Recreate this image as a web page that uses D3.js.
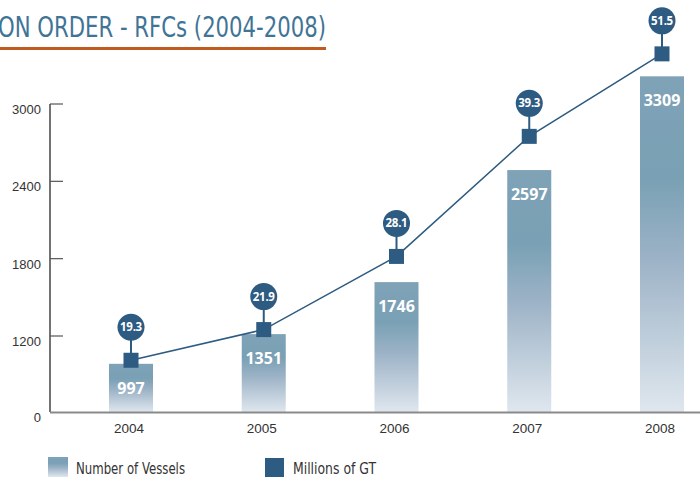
<!DOCTYPE html>
<html>
<head>
<meta charset="utf-8">
<script src="https://cdn.jsdelivr.net/npm/d3@7"></script>
<style>
  body { margin: 0; background: #fff; }
  svg { display: block; }
</style>
</head>
<body>
<div id="container"></div>
<script>
var w = 700,
    h = 478;

// data
var years = ['2004', '2005', '2006', '2007', '2008'];
var vessels = [997, 1351, 1746, 2597, 3309];
var millionsGT = [19.3, 21.9, 28.1, 39.3, 51.5];
var yTicks = [0, 1200, 1800, 2400, 3000];
var legendLabels = ['Number of Vessels', 'Millions of GT'];

var blue = '#2d5b81';
var narrow = '"Liberation Sans Narrow", "DejaVu Sans Condensed", sans-serif';

var svg = d3.select('#container')
    .append('svg')
    .attr('width', w)
    .attr('height', h);

var defs = svg.append('defs');
var grad = defs.append('linearGradient')
    .attr('id', 'barGrad')
    .attr('x1', 0).attr('y1', 0)
    .attr('x2', 0).attr('y2', 1);
grad.append('stop').attr('offset', '0%').attr('stop-color', '#7fa2b7');
grad.append('stop').attr('offset', '30%').attr('stop-color', '#79a0b4');
grad.append('stop').attr('offset', '55%').attr('stop-color', '#9db3c7');
grad.append('stop').attr('offset', '100%').attr('stop-color', '#dfe7ee');

// scales (the axis is broken: 0-1200 is squeezed)
var x = d3.scalePoint().domain(years).range([131, 662]);
var y = d3.scaleLinear().domain([0, 1200, 3000]).range([412, 336, 104]);
// bars in the original sit on their own, slightly lower scale
var yBar = d3.scaleLinear().domain([0, 1200, 3000]).range([412, 354, 117]);
var yGT = d3.scaleLinear().domain([20, 30, 40, 55]).range([352, 234, 129, 31]);

// title
svg.append('text')
    .attr('x', -2)
    .attr('y', 37)
    .attr('font-family', narrow)
    .attr('font-size', 28)
    .attr('textLength', 328)
    .attr('lengthAdjust', 'spacingAndGlyphs')
    .attr('fill', '#3f7496')
    .text('ON ORDER - RFCs (2004-2008)');
svg.append('line')
    .attr('x1', 0).attr('x2', 326)
    .attr('y1', 48.5).attr('y2', 48.5)
    .attr('stroke', '#c05a1e')
    .attr('stroke-width', 3);

// bars
var barW = 44;
var bars = svg.selectAll('.bar').data(vessels)
    .enter().append('g')
    .attr('class', 'bar');
bars.append('rect')
    .attr('x', function(d, i) { return x(years[i]) - barW / 2; })
    .attr('y', function(d) { return yBar(d); })
    .attr('width', barW)
    .attr('height', function(d) { return yBar(0) - yBar(d); })
    .attr('fill', 'url(#barGrad)');
bars.append('text')
    .attr('x', function(d, i) { return x(years[i]); })
    .attr('y', function(d) { return yBar(d) + 30; })
    .attr('text-anchor', 'middle')
    .attr('font-family', '"Open Sans", sans-serif')
    .attr('font-weight', 'bold')
    .attr('font-size', 16)
    .attr('fill', '#fff')
    .text(function(d) { return d; });

// axes
var yAxis = svg.append('g').attr('transform', 'translate(50,0)');
yAxis.append('line')
    .attr('x1', 0).attr('x2', 0)
    .attr('y1', y(3000)).attr('y2', y(0))
    .attr('stroke', '#444').attr('stroke-width', 1.5);
yAxis.selectAll('.tick').data(yTicks.slice(1))
    .enter().append('line')
    .attr('x1', 0).attr('x2', 13)
    .attr('y1', function(d) { return y(d); })
    .attr('y2', function(d) { return y(d); })
    .attr('stroke', '#555').attr('stroke-width', 1.2);
yAxis.selectAll('.lbl').data(yTicks)
    .enter().append('text')
    .attr('x', -9)
    .attr('y', function(d) { return y(d) + 10; })
    .attr('text-anchor', 'end')
    .attr('font-family', '"Liberation Sans", sans-serif')
    .attr('font-size', 13)
    .attr('fill', '#333')
    .text(function(d) { return d; });

svg.append('line')
    .attr('x1', 50).attr('x2', w)
    .attr('y1', y(0) + 0.5).attr('y2', y(0) + 0.5)
    .attr('stroke', '#8a8a8a').attr('stroke-width', 2);

svg.selectAll('.xlbl').data(years)
    .enter().append('text')
    .attr('x', function(d) { return x(d) - 2; })
    .attr('y', 433)
    .attr('text-anchor', 'middle')
    .attr('font-family', '"Liberation Sans", sans-serif')
    .attr('font-size', 13.5)
    .attr('fill', '#333')
    .text(function(d) { return d; });

// GT line
var line = d3.line()
    .x(function(d, i) { return x(years[i]); })
    .y(function(d) { return yGT(d); });
svg.append('path')
    .datum(millionsGT)
    .attr('d', line)
    .attr('fill', 'none')
    .attr('stroke', blue)
    .attr('stroke-width', 1.5);

var pts = svg.selectAll('.pt').data(millionsGT)
    .enter().append('g')
    .attr('class', 'pt')
    .attr('transform', function(d, i) {
        return 'translate(' + x(years[i]) + ',' + yGT(d) + ')';
    });
pts.append('line')
    .attr('x1', 0).attr('x2', 0)
    .attr('y1', -33).attr('y2', 0)
    .attr('stroke', blue).attr('stroke-width', 2);
pts.append('rect')
    .attr('x', -7.5).attr('y', -7.5)
    .attr('width', 15).attr('height', 15)
    .attr('fill', blue);
pts.append('circle')
    .attr('cx', 0).attr('cy', -33)
    .attr('r', 13.5)
    .attr('fill', blue);
pts.append('text')
    .attr('x', 0).attr('y', -29)
    .attr('text-anchor', 'middle')
    .attr('font-family', '"Open Sans", sans-serif')
    .attr('font-weight', 'bold')
    .attr('font-size', 11.5)
    .attr('letter-spacing', -0.3)
    .attr('fill', '#fff')
    .text(function(d) { return d.toFixed(1); });

// legend
var legend = svg.append('g');
legend.append('rect')
    .attr('x', 48).attr('y', 457)
    .attr('width', 20).attr('height', 20)
    .attr('fill', 'url(#barGrad)');
legend.append('text')
    .attr('x', 76).attr('y', 474)
    .attr('font-family', narrow)
    .attr('font-size', 15)
    .attr('textLength', 109)
    .attr('lengthAdjust', 'spacingAndGlyphs')
    .attr('fill', '#333')
    .text(legendLabels[0]);
legend.append('rect')
    .attr('x', 265).attr('y', 458)
    .attr('width', 19).attr('height', 19)
    .attr('fill', blue);
legend.append('text')
    .attr('x', 293).attr('y', 474)
    .attr('font-family', narrow)
    .attr('font-size', 15)
    .attr('textLength', 83)
    .attr('lengthAdjust', 'spacingAndGlyphs')
    .attr('fill', '#333')
    .text(legendLabels[1]);
</script>
</body>
</html>
